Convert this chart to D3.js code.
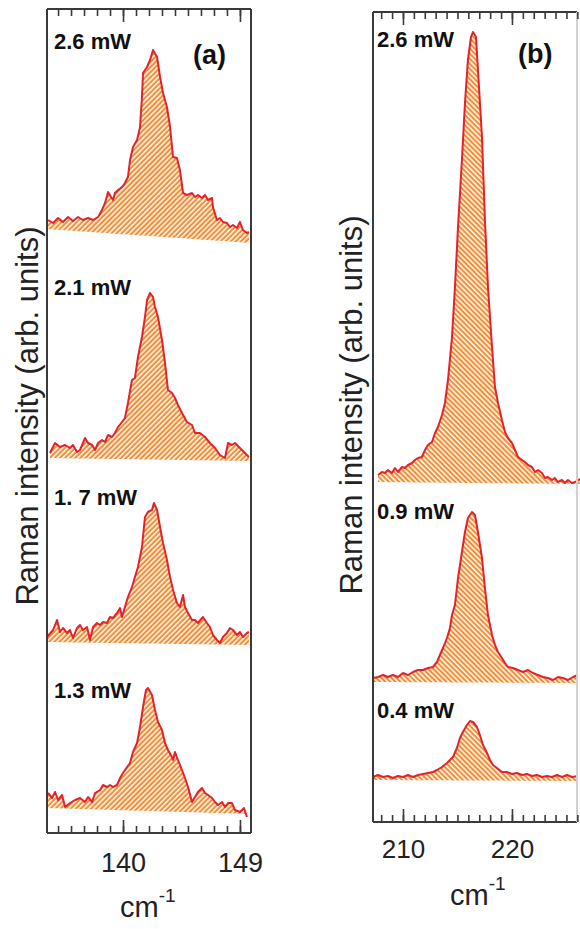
<!DOCTYPE html>
<html>
<head>
<meta charset="utf-8">
<script src="https://cdn.jsdelivr.net/npm/d3@7"></script>
<style>
body { margin: 0; background: #fff; }
text { font-family: "Liberation Sans", Arial, Helvetica, sans-serif; }
</style>
</head>
<body>
<svg id="chart" width="580" height="929"></svg>
<script>

// ---- data: [wavenumber (cm-1), intensity (arb. units, offset included)]

// panel (a), 140 cm-1 mode
var labelsA = ["2.6 mW", "2.1 mW", "1. 7 mW", "1.3 mW"];

var specA26 = [[134.23,613],[134.62,610],[135.0,615],[135.38,611],[135.77,616],[136.15,612],[136.54,616],
    [136.92,613],[137.31,615],[137.69,613],[138.08,616],[138.38,623],[138.62,630],[138.85,641],[139.08,636],
    [139.23,633],[139.38,640],[139.62,643],[139.92,646],[140.15,650],[140.38,656],[140.54,673],[140.77,686],
    [141.08,693],[141.31,706],[141.46,736],[141.54,760],[141.85,766],[142.08,773],[142.31,783],[142.62,776],
    [142.85,756],[143.08,740],[143.38,726],[143.62,706],[143.85,676],[144.15,675],[144.38,663],[144.62,640],
    [144.92,638],[145.31,640],[145.54,636],[145.77,638],[146.08,635],[146.31,638],[146.54,633],[146.85,635],
    [146.92,626],[147.23,613],[147.46,615],[147.69,611],[148.0,610],[148.23,606],[148.46,608],[148.77,605],
    [149.0,611],[149.23,603],[149.54,600],[149.69,601]];

var specA21 = [[134.38,380],[134.77,390],[135.15,386],[135.54,388],[135.92,385],[136.15,388],[136.46,381],
    [136.69,383],[137.08,395],[137.31,390],[137.62,388],[137.85,383],[138.08,390],[138.38,393],[138.62,391],
    [138.85,398],[139.15,396],[139.38,400],[139.62,406],[139.92,411],[140.15,415],[140.38,430],[140.69,453],
    [140.92,455],[141.15,476],[141.46,496],[141.69,516],[141.85,533],[142.08,540],[142.31,536],[142.46,526],
    [142.69,516],[143.0,493],[143.23,470],[143.46,443],[143.77,440],[144.0,435],[144.23,428],[144.54,420],
    [144.92,411],[145.31,408],[145.54,400],[145.92,400],[146.31,396],[146.69,390],[147.08,385],[147.46,378],
    [147.85,375],[148.08,390],[148.38,388],[148.62,390],[149.0,385],[149.38,380],[149.69,376]];

var specA17 = [[134.15,196],[134.62,203],[134.92,213],[135.15,201],[135.38,205],[135.69,200],[135.92,203],
    [136.15,195],[136.46,205],[136.69,208],[136.92,203],[137.23,206],[137.46,193],[137.69,206],[138.0,210],
    [138.23,208],[138.46,211],[138.77,210],[139.0,216],[139.23,215],[139.54,220],[139.77,225],[139.92,216],
    [140.15,226],[140.38,236],[140.69,246],[140.92,256],[141.15,266],[141.46,286],[141.69,316],[141.92,321],
    [142.23,323],[142.38,330],[142.62,323],[142.85,306],[143.08,290],[143.38,273],[143.62,256],[143.85,243],
    [144.15,230],[144.38,226],[144.62,238],[144.77,226],[145.0,220],[145.31,213],[145.54,213],[145.77,210],
    [146.15,216],[146.46,210],[146.69,206],[146.92,198],[147.23,193],[147.46,190],[147.69,196],[148.0,200],
    [148.23,205],[148.46,203],[148.77,198],[149.0,201],[149.23,196],[149.54,200],[149.69,201]];

var specA13 = [[134.23,40],[134.54,35],[134.77,41],[135.0,33],[135.31,38],[135.54,26],[135.92,30],
    [136.31,33],[136.69,35],[137.08,31],[137.31,36],[137.62,31],[137.85,40],[138.23,43],[138.46,48],
    [138.77,46],[139.0,48],[139.23,46],[139.54,48],[139.77,55],[140.0,60],[140.31,66],[140.54,70],
    [140.77,81],[141.08,90],[141.31,106],[141.54,126],[141.77,143],[141.92,145],[142.23,138],[142.46,123],
    [142.69,111],[143.0,103],[143.23,90],[143.46,83],[143.77,76],[143.85,73],[144.0,81],[144.23,73],
    [144.54,63],[144.77,55],[145.0,46],[145.31,31],[145.54,36],[145.77,41],[146.08,45],[146.31,40],
    [146.54,38],[146.85,35],[147.08,31],[147.31,28],[147.62,31],[147.85,26],[148.08,30],[148.38,30],
    [148.62,23],[149.0,21],[149.31,25],[149.54,16]];

// straight baselines under each trace: [intensity at left edge, intensity at right edge]
var baseA = [[604, 590], [375, 372], [191, 188], [25, 19]];

// panel (b), 217 cm-1 mode
var labelsB = ["2.6 mW", "0.9 mW", "0.4 mW"];

var specB26 = [[207.71,347],[208.07,350],[208.35,349],[208.62,352],[208.99,349],[209.27,354],[209.54,350],
    [209.91,355],[210.18,354],[210.46,357],[210.83,359],[211.10,362],[211.38,364],[211.74,365],[212.02,372],
    [212.29,377],[212.66,380],[212.94,389],[213.21,395],[213.58,407],[213.85,419],[214.13,442],[214.50,485],
    [214.77,535],[215.05,595],[215.41,662],[215.69,719],[215.96,762],[216.24,785],[216.42,790],[216.70,785],
    [216.88,752],[217.25,685],[217.52,602],[217.80,535],[218.17,475],[218.44,435],[218.72,419],[219.08,402],
    [219.36,390],[219.63,384],[220.0,379],[220.28,372],[220.55,365],[220.92,362],[221.19,360],[221.47,357],
    [221.83,355],[222.11,350],[222.39,352],[222.75,349],[223.03,344],[223.30,345],[223.67,342],[223.94,344],
    [224.22,340],[224.59,342],[224.86,339],[225.14,342],[225.50,339],[225.78,340],[226.24,343]];

var specB09 = [[207.25,144],[207.71,145],[208.17,147],[208.62,145],[209.08,147],[209.54,145],[210.0,149],
    [210.46,147],[210.92,150],[211.38,152],[211.83,152],[212.29,154],[212.75,155],[213.12,160],[213.39,167],
    [213.67,174],[214.04,184],[214.31,194],[214.50,207],[214.77,217],[215.05,244],[215.41,270],[215.69,290],
    [215.96,304],[216.33,310],[216.61,307],[216.88,290],[217.25,264],[217.52,234],[217.80,207],[218.17,187],
    [218.44,177],[218.72,170],[219.08,164],[219.36,159],[219.63,155],[220.09,154],[220.55,152],[221.01,150],
    [221.47,152],[221.93,149],[222.39,147],[222.84,145],[223.30,144],[223.76,142],[224.22,145],[224.68,144],
    [225.14,142],[225.60,145],[226.06,147]];

var specB04 = [[207.25,45],[207.71,47],[208.17,45],[208.62,46],[209.08,44],[209.54,46],[210.0,45],
    [210.46,47],[210.92,45],[211.38,47],[211.83,48],[212.29,49],[212.75,50],[213.12,52],[213.58,55],
    [214.04,59],[214.31,62],[214.59,65],[214.95,74],[215.23,84],[215.50,90],[215.87,97],[216.15,101],
    [216.42,100],[216.79,95],[217.06,87],[217.34,77],[217.71,69],[217.98,62],[218.26,57],[218.62,54],
    [219.08,50],[219.54,50],[220.0,48],[220.46,49],[220.92,47],[221.38,48],[221.83,46],[222.29,47],
    [222.75,45],[223.21,46],[223.67,45],[224.13,47],[224.59,45],[225.05,47],[225.50,45],[226.06,46]];

var baseB = [[340, 338], [140, 139], [42, 41]];

// axis ticks
var minorTicksA = d3.range(135, 150);
var majorTicksA = [140, 149];
var minorTicksB = d3.range(208, 227);
var majorTicksB = [210, 220];

var yTitle = "Raman intensity (arb. units)";

// ---- drawing

var svg = d3.select("#chart");
var defs = svg.append("defs");

var ORANGE = "#f68b30";
var RED = "#e2232a";
var FRAME = "#3a3a3a";

function addHatch(id, angle)
{
    var p = defs.append("pattern")
        .attr("id", id)
        .attr("patternUnits", "userSpaceOnUse")
        .attr("width", 3.6)
        .attr("height", 3.6)
        .attr("patternTransform", "rotate(" + angle + ")");
    p.append("rect").attr("width", 3.6).attr("height", 3.6).attr("fill", ORANGE);
    p.append("line")
        .attr("x1", 0.8).attr("y1", 0).attr("x2", 0.8).attr("y2", 3.6)
        .attr("stroke", "#fff").attr("stroke-width", 1.5);
}
addHatch("hatchA", 45);
addHatch("hatchB", -45);

function drawPanel(opt)
{
    var x = d3.scaleLinear().domain(opt.xDomain).range([opt.left, opt.right]);
    var y = d3.scaleLinear().domain(opt.yDomain).range([opt.bottom, opt.top]);
    var g = svg.append("g");

    // traces
    opt.spectra.forEach(function (spec, i)
    {
        var base = d3.scaleLinear().domain(opt.xDomain).range(opt.baselines[i]);
        var area = d3.area()
            .x(function (d) { return x(d[0]); })
            .y0(function (d) { return y(base(d[0])); })
            .y1(function (d) { return y(d[1]); });
        var line = d3.line()
            .x(function (d) { return x(d[0]); })
            .y(function (d) { return y(d[1]); });

        g.append("path").attr("d", area(spec)).attr("fill", "url(#" + opt.hatch + ")");
        g.append("path").attr("d", line(spec))
            .attr("fill", "none").attr("stroke", RED).attr("stroke-width", 2)
            .attr("stroke-linejoin", "round");

        g.append("text")
            .attr("x", opt.labelX)
            .attr("y", opt.labelY[i])
            .attr("font-size", 22)
            .attr("font-weight", "bold")
            .attr("fill", "#111")
            .text(opt.labels[i]);
    });

    // frame
    g.append("line").attr("x1", opt.left).attr("x2", opt.left).attr("y1", opt.top).attr("y2", opt.bottom)
        .attr("stroke", FRAME).attr("stroke-width", 2);
    g.append("line").attr("x1", opt.left).attr("x2", opt.frameRight).attr("y1", opt.top).attr("y2", opt.top)
        .attr("stroke", FRAME).attr("stroke-width", 2);
    g.append("line").attr("x1", opt.left).attr("x2", opt.frameRight).attr("y1", opt.bottom).attr("y2", opt.bottom)
        .attr("stroke", FRAME).attr("stroke-width", 2);
    g.append("line").attr("x1", opt.frameRight).attr("x2", opt.frameRight).attr("y1", opt.top).attr("y2", opt.bottom)
        .attr("stroke", opt.rightColor).attr("stroke-width", 2);

    // ticks, all pointing inside
    function tickAxis(axis, ty)
    {
        var a = g.append("g").attr("transform", "translate(0," + ty + ")").call(axis);
        a.select(".domain").remove();
        a.selectAll("line").attr("stroke", FRAME).attr("stroke-width", 1.6);
        return a;
    }
    tickAxis(d3.axisBottom(x).tickValues(opt.minor).tickSize(-7).tickFormat(""), opt.bottom);
    tickAxis(d3.axisTop(x).tickValues(opt.minor).tickSize(-7).tickFormat(""), opt.top);
    tickAxis(d3.axisTop(x).tickValues(opt.major).tickSize(-13).tickFormat(""), opt.top);
    var lab = tickAxis(d3.axisBottom(x).tickValues(opt.major).tickSize(-13).tickPadding(opt.tickPad)
        .tickFormat(d3.format("d")), opt.bottom);
    lab.selectAll("text")
        .attr("font-size", opt.tickFont)
        .attr("font-family", "'Liberation Sans', Arial, sans-serif")
        .attr("fill", "#222");

    // panel letter
    g.append("text")
        .attr("x", opt.letterX).attr("y", opt.letterY)
        .attr("font-size", 27).attr("font-weight", "bold").attr("fill", "#111")
        .text(opt.letter);

    // y title
    g.append("text")
        .attr("transform", "translate(" + opt.yTitleX + "," + opt.yTitleY + ") rotate(-90)")
        .attr("text-anchor", "middle")
        .attr("font-size", 31)
        .attr("fill", "#222")
        .text(yTitle);

    // x title: cm-1
    var t = g.append("text")
        .attr("x", opt.cmX).attr("y", opt.cmY)
        .attr("font-size", 29)
        .attr("fill", "#222");
    t.append("tspan").text("cm");
    t.append("tspan").attr("dy", -15).attr("font-size", 19).text("-1");
}

drawPanel({
    xDomain: [134.15, 149.85], yDomain: [0, 824],
    left: 47, right: 251, top: 9, bottom: 833, frameRight: 251, rightColor: FRAME,
    spectra: [specA26, specA21, specA17, specA13], baselines: baseA,
    labels: labelsA, labelX: 54, labelY: [49, 295, 505, 698],
    minor: minorTicksA, major: majorTicksA, tickPad: 20, tickFont: 27,
    hatch: "hatchA", letter: "(a)", letterX: 193, letterY: 64,
    yTitleX: 38, yTitleY: 416, cmX: 120, cmY: 917
});

drawPanel({
    xDomain: [207.25, 226.5], yDomain: [0, 810],
    left: 373, right: 582.8, top: 12, bottom: 822, frameRight: 577, rightColor: "#d0d0d0",
    spectra: [specB26, specB09, specB04], baselines: baseB,
    labels: labelsB, labelX: 377, labelY: [47, 519, 718],
    minor: minorTicksB, major: majorTicksB, tickPad: 18, tickFont: 26,
    hatch: "hatchB", letter: "(b)", letterX: 518, letterY: 63,
    yTitleX: 362, yTitleY: 405, cmX: 450, cmY: 905
});

</script>
</body>
</html>
